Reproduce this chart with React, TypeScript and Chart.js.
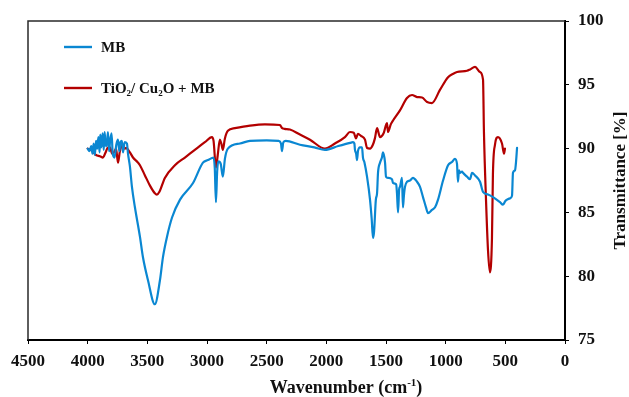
import { useEffect, useRef } from "react";
import { Chart, registerables } from "chart.js";

Chart.register(...registerables);

// FTIR spectrum of methylene blue (wavenumber in cm-1, transmittance in %)
const mbWavenumber = [
  4000, 3985, 3970, 3960, 3950, 3940, 3930, 3920, 3910, 3900, 3895, 3885, 3875, 3865, 3858, 3848,
  3838, 3830, 3820, 3813, 3800, 3790, 3775, 3760, 3746, 3735, 3725, 3713, 3704, 3690, 3671, 3662,
  3646, 3629, 3604, 3562, 3537, 3495, 3437, 3394, 3369, 3335, 3293, 3226, 3117, 3034, 2992, 2945,
  2935, 2925, 2915, 2905, 2885, 2867, 2850, 2825, 2724, 2640, 2500, 2400, 2380, 2372, 2360, 2340,
  2221, 2100, 2012, 1900, 1800, 1777, 1765, 1760, 1750, 1743, 1735, 1718, 1701, 1693, 1680, 1659,
  1634, 1620, 1609, 1600, 1585, 1575, 1567, 1550, 1534, 1525, 1508, 1500, 1483, 1450, 1441, 1415,
  1408, 1399, 1390, 1383, 1366, 1358, 1350, 1341, 1324, 1299, 1274, 1240, 1215, 1190, 1165, 1148,
  1115, 1089, 1064, 1022, 980, 947, 922, 905, 897, 888, 880, 863, 855, 821, 796, 779,
  754, 712, 687, 645, 603, 545, 520, 500, 486, 461, 444, 436, 419, 410, 402,
];
const mbTransmittance = [
  90.0, 89.8, 90.2, 89.6, 90.4, 89.5, 90.6, 90.0, 90.9, 89.7, 91.1, 90.1, 91.2, 89.9, 91.3, 90.2,
  90.4, 91.3, 89.8, 90.5, 91.2, 89.6, 89.3, 90.3, 90.7, 89.8, 90.5, 90.6, 89.7, 90.5, 90.4, 89.6,
  88.6, 87.0, 85.4, 83.1, 81.5, 79.7, 77.8, 79.7, 81.5, 83.1, 84.6, 86.0, 87.3, 88.9, 89.1, 89.3,
  88.5, 85.8, 88.2, 89.0, 88.8, 87.8, 89.2, 90.0, 90.4, 90.6, 90.65, 90.6, 90.4, 89.8, 90.5, 90.6,
  90.3, 90.1, 89.9, 90.2, 90.45, 90.5, 90.4, 89.9, 89.6, 89.1, 89.8, 90.1, 90.1, 89.3, 88.9, 87.8,
  86.0, 84.5, 83.0, 83.5, 86.0, 86.5, 88.1, 88.9, 89.3, 89.7, 88.9, 87.8, 87.7, 87.6, 87.3, 87.2,
  86.5, 85.0, 86.8, 87.0, 87.7, 85.4, 86.3, 87.0, 87.4, 87.5, 87.7, 87.4, 87.0, 86.2, 85.4, 84.95,
  85.2, 85.4, 86.0, 87.5, 88.7, 88.95, 89.2, 88.8, 87.4, 88.3, 88.1, 88.2, 88.1, 87.8, 87.6, 88.1,
  87.9, 87.4, 86.6, 86.4, 86.2, 85.8, 85.6, 85.9, 86.0, 86.1, 86.3, 88.1, 88.3, 89.0, 90.05,
];

// FTIR spectrum of TiO2/Cu2O after methylene blue adsorption
const compositeWavenumber = [
  4000, 3960, 3930, 3897, 3872, 3850, 3830, 3813, 3795, 3780, 3762, 3746, 3730, 3713, 3690, 3679,
  3646, 3620, 3578, 3562, 3520, 3478, 3437, 3420, 3400, 3353, 3269, 3185, 3102, 3018, 2959, 2945,
  2925, 2910, 2892, 2880, 2867, 2850, 2825, 2766, 2640, 2515, 2389, 2370, 2350, 2305, 2221, 2137,
  2012, 1928, 1844, 1802, 1770, 1752, 1735, 1710, 1676, 1659, 1634, 1610, 1593, 1575, 1550, 1520,
  1492, 1483, 1460, 1441, 1383, 1324, 1282, 1240, 1198, 1156, 1115, 1048, 980, 940, 905, 821,
  796, 754, 712, 687, 679, 662, 645, 629, 612, 604, 587, 562, 528, 511, 503,
];
const compositeTransmittance = [
  90.0, 89.8, 89.5, 89.4, 89.3, 89.7, 90.1, 90.1, 89.6, 89.7, 90.0, 88.9, 89.8, 90.2, 90.0, 90.05,
  89.7, 89.3, 88.9, 88.7, 87.9, 87.1, 86.5, 86.4, 86.6, 87.7, 88.7, 89.3, 89.9, 90.5, 90.9, 90.6,
  88.5, 89.5, 90.7, 90.4, 89.9, 90.8, 91.4, 91.6, 91.8, 91.9, 91.85, 91.6, 91.55, 91.5, 91.1, 90.7,
  90.0, 90.4, 90.9, 91.3, 91.25, 90.8, 91.15, 91.0, 90.7, 90.05, 90.0, 90.3, 90.8, 91.6, 90.9, 91.2,
  92.0, 91.3, 91.9, 92.2, 93.0, 93.97, 94.2, 94.04, 94.0, 93.65, 93.57, 94.6, 95.6, 95.85, 96.0, 96.1,
  96.2, 96.4, 96.0, 95.4, 91.2, 86.0, 82.0, 80.3, 83.0, 88.0, 90.3, 90.9, 90.4, 89.6, 90.0,
];

const wavenumberRange = [0, 4500];
const wavenumberStep = 500;
const transmittanceRange = [75, 100];
const transmittanceStep = 5;

const mbColor = "#0a87d2";
const compositeColor = "#b30000";
const serif = "'Liberation Serif', 'Times New Roman', serif";

type Part = { text: string; sub?: boolean; sup?: boolean };

function drawRich(ctx: CanvasRenderingContext2D, parts: Part[], x: number, y: number, size: number, align: "left" | "center" = "left") {
  const small = Math.round(size * 0.62);
  const fontFor = (p: Part) => `bold ${p.sub || p.sup ? small : size}px ${serif}`;
  let total = 0;
  for (const p of parts) {
    ctx.font = fontFor(p);
    total += ctx.measureText(p.text).width;
  }
  let cx = align === "center" ? x - total / 2 : x;
  ctx.textBaseline = "alphabetic";
  ctx.textAlign = "left";
  for (const p of parts) {
    ctx.font = fontFor(p);
    const dy = p.sub ? size * 0.22 : p.sup ? -size * 0.4 : 0;
    ctx.fillText(p.text, cx, y + dy);
    cx += ctx.measureText(p.text).width;
  }
}

const decorations = {
  id: "decorations",
  afterDraw(chart: Chart) {
    const { ctx, chartArea } = chart;
    ctx.save();
    // top and left frame lines
    ctx.strokeStyle = "#2a2a2a";
    ctx.lineWidth = 1.5;
    ctx.beginPath();
    ctx.moveTo(chartArea.left, chartArea.bottom);
    ctx.lineTo(chartArea.left, chartArea.top);
    ctx.lineTo(chartArea.right, chartArea.top);
    ctx.stroke();

    // legend
    const legendItems: { color: string; parts: Part[] }[] = [
      { color: mbColor, parts: [{ text: "MB" }] },
      {
        color: compositeColor,
        parts: [
          { text: "TiO" },
          { text: "2", sub: true },
          { text: "/ Cu" },
          { text: "2", sub: true },
          { text: "O + MB" },
        ],
      },
    ];
    legendItems.forEach((item, i) => {
      const ly = chartArea.top + 26 + i * 41;
      ctx.strokeStyle = item.color;
      ctx.lineWidth = 2.4;
      ctx.beginPath();
      ctx.moveTo(chartArea.left + 36, ly);
      ctx.lineTo(chartArea.left + 64, ly);
      ctx.stroke();
      ctx.fillStyle = "#111";
      drawRich(ctx, item.parts, chartArea.left + 73, ly + 5, 15);
    });

    // axis titles
    ctx.fillStyle = "#111";
    drawRich(
      ctx,
      [{ text: "Wavenumber (cm" }, { text: "-1", sup: true }, { text: ")" }],
      346,
      chart.height - 4,
      18,
      "center"
    );
    ctx.translate(chart.width - 4, (chartArea.top + chartArea.bottom) / 2);
    ctx.rotate(-Math.PI / 2);
    drawRich(ctx, [{ text: "Transmittance [%]" }], 0, 0, 17, "center");
    ctx.restore();
  },
};

export default function App() {
  const canvasRef = useRef<HTMLCanvasElement | null>(null);

  useEffect(() => {
    const canvas = canvasRef.current;
    if (!canvas) return;
    const toPoints = (xs: number[], ys: number[]) => xs.map((x, i) => ({ x, y: ys[i] }));
    const tickFont = { family: serif, size: 17, weight: "bold" as const };
    const plain = (v: number | string) => String(v);

    const chart = new Chart(canvas, {
      type: "line",
      data: {
        datasets: [
          {
            label: "MB",
            data: toPoints(mbWavenumber, mbTransmittance),
            borderColor: mbColor,
            borderWidth: 2.2,
            pointRadius: 0,
            cubicInterpolationMode: "monotone",
          },
          {
            label: "TiO2/ Cu2O + MB",
            data: toPoints(compositeWavenumber, compositeTransmittance),
            borderColor: compositeColor,
            borderWidth: 2.2,
            pointRadius: 0,
            cubicInterpolationMode: "monotone",
          },
        ],
      },
      options: {
        animation: false,
        responsive: true,
        maintainAspectRatio: false,
        layout: { padding: { left: 28, top: 21, right: 0, bottom: 0 } },
        plugins: { legend: { display: false }, tooltip: { enabled: false } },
        elements: { line: { borderJoinStyle: "round", borderCapStyle: "round" } },
        scales: {
          x: {
            type: "linear",
            reverse: true,
            min: wavenumberRange[0],
            max: wavenumberRange[1],
            ticks: { stepSize: wavenumberStep, color: "#111", font: tickFont, padding: 7, maxRotation: 0, callback: plain },
            grid: { display: true, drawOnChartArea: false, drawTicks: true, tickLength: 4, color: "#000", tickColor: "#000" },
            border: { display: true, color: "#000", width: 2 },
            afterFit: (scale: any) => {
              scale.height = 57;
            },
          },
          y: {
            type: "linear",
            position: "right",
            min: transmittanceRange[0],
            max: transmittanceRange[1],
            ticks: { stepSize: transmittanceStep, color: "#111", font: tickFont, padding: 9, callback: plain },
            grid: { display: true, drawOnChartArea: false, drawTicks: true, tickLength: 4, color: "#000", tickColor: "#000" },
            border: { display: true, color: "#000", width: 2 },
            afterFit: (scale: any) => {
              scale.width = 64;
            },
          },
        },
      },
      plugins: [decorations],
    });
    return () => chart.destroy();
  }, []);

  return (
    <div style={{ position: "fixed", left: 0, top: 0, width: 629, height: 397, background: "#fff" }}>
      <canvas ref={canvasRef} />
    </div>
  );
}
